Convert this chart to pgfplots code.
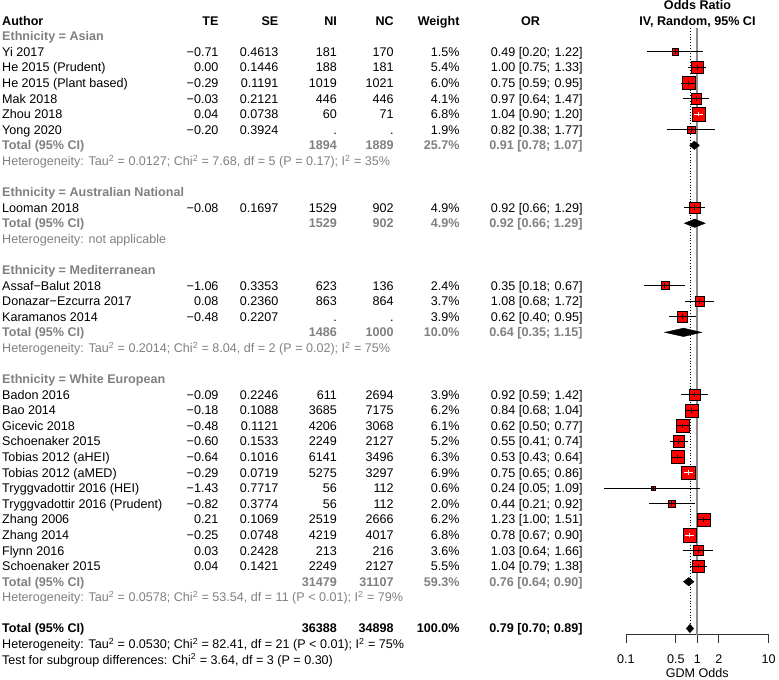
\documentclass[border=0pt]{standalone}
\usepackage{fontspec}
\setmainfont{Liberation Sans}
\usepackage{pgfplots}
\pgfplotsset{compat=1.18}
\usepackage{pgfplotstable}

\definecolor{grp}{RGB}{128,128,128}
\definecolor{vline}{RGB}{140,140,140}
\definecolor{sq}{RGB}{255,0,0}

% studies whose CI sticks out of the square (black line); ms = half side of square
\pgfplotstableread{
r  or   lo   hi   w   ms
2  0.49 0.20 1.22 1.5 3.18
3  1.00 0.75 1.33 5.4 6.04
4  0.75 0.59 0.95 6.0 6.37
5  0.97 0.64 1.47 4.1 5.26
7  0.82 0.38 1.77 1.9 3.58
12 0.92 0.66 1.29 4.9 5.76
17 0.35 0.18 0.67 2.4 4.03
18 1.08 0.68 1.72 3.7 5.00
19 0.62 0.40 0.95 3.9 5.13
24 0.92 0.59 1.42 3.9 5.13
25 0.84 0.68 1.04 6.2 6.47
26 0.62 0.50 0.77 6.1 6.42
27 0.55 0.41 0.74 5.2 5.93
28 0.53 0.43 0.64 6.3 6.53
30 0.24 0.05 1.09 0.6 2.01
31 0.44 0.21 0.92 2.0 3.68
32 1.23 1.00 1.51 6.2 6.47
34 1.03 0.64 1.66 3.6 4.93
35 1.04 0.79 1.38 5.5 6.10
}\wide
% studies whose CI lies inside the square (white line)
\pgfplotstableread{
r  or   lo   hi   w   ms
6  1.04 0.90 1.20 6.8 6.78
29 0.75 0.65 0.86 6.9 6.83
33 0.78 0.67 0.90 6.8 6.78
}\narrow

% baseline of row #1 in pixels
\newcommand\B[1]{25.2+15.63*(#1)}
\newcommand\st[9]{%
  \node[anchor=base west] at (2,{\B{#1}}) {#2};
  \node[anchor=base east] at (219.3,{\B{#1}}) {#3};
  \node[anchor=base east] at (279.3,{\B{#1}}) {#4};
  \node[anchor=base east] at (338,{\B{#1}}) {#5};
  \node[anchor=base east] at (395,{\B{#1}}) {#6};
  \node[anchor=base east] at (461,{\B{#1}}) {#7\%};
  \node[anchor=base east] at (552,{\B{#1}}) {#8;};
  \node[anchor=base east] at (584.5,{\B{#1}}) {#9]};
}
\newcommand\tot[6]{%
  \node[anchor=base west] at (2,{\B{#1}}) {Total (95\% CI)};
  \node[anchor=base east] at (338,{\B{#1}}) {#2};
  \node[anchor=base east] at (395,{\B{#1}}) {#3};
  \node[anchor=base east] at (461,{\B{#1}}) {#4\%};
  \node[anchor=base east] at (552,{\B{#1}}) {#5;};
  \node[anchor=base east] at (584.5,{\B{#1}}) {#6]};
}
\newcommand\lft[2]{\node[anchor=base west] at (2,{\B{#1}}) {#2};}
\newcommand\sq{\textsuperscript{2}}
\newcommand\fs{\fontsize{12.6}{15}\selectfont}

\pgfplotsset{
  boxes/.style={scatter, only marks, mark=square*,
    scatter/use mapped color={draw=none, fill=sq},
    visualization depends on={\thisrow{ms} \as \msz},
    scatter/@pre marker code/.append style={/tikz/mark size=\msz}},
  cis/.style={draw=none, mark=none,
    error bars/.cd, x dir=both, x explicit, y dir=both, y fixed=0.15,
    error mark=none, error bar style={draw=#1, line width=0.8pt}},
}

\begin{document}
\begin{tikzpicture}[font=\fs]
\begin{scope}[x=1pt,y=-1pt]
\useasboundingbox (0,0) rectangle (779,681);
\end{scope}

\begin{axis}[
  at={(627.7pt,-636.7pt)}, anchor=south west,
  scale only axis, width=143.2pt, height=636.7pt,
  xmode=log, xmin=0.1, xmax=10,
  ymin=-39.411, ymax=1.3244,
  axis y line=none, axis x line*=bottom,
  x axis line style={black!80, line width=0.8pt},
  xtick={0.1,0.5,1,2,10}, xticklabels={0.1,0.5,1,2,10},
  xminorticks=false,
  tick align=outside, major tick length=8pt,
  tick style={black!80, line width=0.8pt},
  xticklabel style={font=\fs, yshift=-8.5pt},
  clip=false, clip marker paths=true,
]
\addplot[vline, line width=1.8pt] coordinates {(1,-0.49) (1,-39.411)};
\addplot[black, line width=0.6pt, dash pattern=on 0.8pt off 2pt] coordinates {(0.79,-0.49) (0.79,-39.411)};

\addplot[boxes] table[x=or, y expr=-\thisrow{r}] {\wide};
\addplot[boxes] table[x=or, y expr=-\thisrow{r}] {\narrow};

\addplot[cis=black] table[x=or, y expr=-\thisrow{r},
    x error plus expr=\thisrow{hi}-\thisrow{or},
    x error minus expr=\thisrow{or}-\thisrow{lo}] {\wide};
\addplot[cis=white] table[x=or, y expr=-\thisrow{r},
    x error plus expr=\thisrow{hi}-\thisrow{or},
    x error minus expr=\thisrow{or}-\thisrow{lo}] {\narrow};

% pooled estimates
\addplot[fill=black, draw=black] coordinates {(0.78,-8) (0.91,-7.73) (1.07,-8) (0.91,-8.27)} -- cycle;
\addplot[fill=black, draw=black] coordinates {(0.66,-13) (0.92,-12.73) (1.29,-13) (0.92,-13.27)} -- cycle;
\addplot[fill=black, draw=black] coordinates {(0.35,-20) (0.64,-19.73) (1.15,-20) (0.64,-20.27)} -- cycle;
\addplot[fill=black, draw=black] coordinates {(0.64,-36) (0.76,-35.73) (0.90,-36) (0.76,-36.27)} -- cycle;
\addplot[fill=black, draw=black] coordinates {(0.70,-39) (0.79,-38.73) (0.89,-39) (0.79,-39.27)} -- cycle;
\end{axis}

\begin{scope}[x=1pt,y=-1pt, every node/.style={inner sep=0pt}]
% header
\begin{scope}[font=\fs\bfseries]
\node[anchor=base] at (699.5,{\B{-1}}) {Odds Ratio};
\node[anchor=base] at (699.5,{\B{0}}) {IV, Random, 95\% CI};
\node[anchor=base west] at (2,{\B{0}}) {Author};
\node[anchor=base east] at (219.3,{\B{0}}) {TE};
\node[anchor=base east] at (279.3,{\B{0}}) {SE};
\node[anchor=base east] at (338,{\B{0}}) {NI};
\node[anchor=base east] at (395,{\B{0}}) {NC};
\node[anchor=base east] at (461,{\B{0}}) {Weight};
\node[anchor=base] at (532,{\B{0}}) {OR};
\end{scope}

% subgroup headers and totals
\begin{scope}[font=\fs\bfseries, text=grp]
\lft{1}{Ethnicity = Asian}
\tot{8}{1894}{1889}{25.7}{0.91 [0.78}{1.07}
\lft{11}{Ethnicity = Australian National}
\tot{13}{1529}{902}{4.9}{0.92 [0.66}{1.29}
\lft{16}{Ethnicity = Mediterranean}
\tot{20}{1486}{1000}{10.0}{0.64 [0.35}{1.15}
\lft{23}{Ethnicity = White European}
\tot{36}{31479}{31107}{59.3}{0.76 [0.64}{0.90}
\end{scope}
\begin{scope}[text=grp]
\lft{9}{Heterogeneity: Tau\sq{} = 0.0127; Chi\sq{} = 7.68, df = 5 (P = 0.17); I\sq{} = 35\%}
\lft{14}{Heterogeneity: not applicable}
\lft{21}{Heterogeneity: Tau\sq{} = 0.2014; Chi\sq{} = 8.04, df = 2 (P = 0.02); I\sq{} = 75\%}
\lft{37}{Heterogeneity: Tau\sq{} = 0.0578; Chi\sq{} = 53.54, df = 11 (P < 0.01); I\sq{} = 79\%}
\end{scope}

\st{2}{Yi 2017}{−0.71}{0.4613}{181}{170}{1.5}{0.49 [0.20}{1.22}
\st{3}{He 2015 (Prudent)}{0.00}{0.1446}{188}{181}{5.4}{1.00 [0.75}{1.33}
\st{4}{He 2015 (Plant based)}{−0.29}{0.1191}{1019}{1021}{6.0}{0.75 [0.59}{0.95}
\st{5}{Mak 2018}{−0.03}{0.2121}{446}{446}{4.1}{0.97 [0.64}{1.47}
\st{6}{Zhou 2018}{0.04}{0.0738}{60}{71}{6.8}{1.04 [0.90}{1.20}
\st{7}{Yong 2020}{−0.20}{0.3924}{.}{.}{1.9}{0.82 [0.38}{1.77}

\st{12}{Looman 2018}{−0.08}{0.1697}{1529}{902}{4.9}{0.92 [0.66}{1.29}

\st{17}{Assaf−Balut 2018}{−1.06}{0.3353}{623}{136}{2.4}{0.35 [0.18}{0.67}
\st{18}{Donazar−Ezcurra 2017}{0.08}{0.2360}{863}{864}{3.7}{1.08 [0.68}{1.72}
\st{19}{Karamanos 2014}{−0.48}{0.2207}{.}{.}{3.9}{0.62 [0.40}{0.95}

\st{24}{Badon 2016}{−0.09}{0.2246}{611}{2694}{3.9}{0.92 [0.59}{1.42}
\st{25}{Bao 2014}{−0.18}{0.1088}{3685}{7175}{6.2}{0.84 [0.68}{1.04}
\st{26}{Gicevic 2018}{−0.48}{0.1121}{4206}{3068}{6.1}{0.62 [0.50}{0.77}
\st{27}{Schoenaker 2015}{−0.60}{0.1533}{2249}{2127}{5.2}{0.55 [0.41}{0.74}
\st{28}{Tobias 2012 (aHEI)}{−0.64}{0.1016}{6141}{3496}{6.3}{0.53 [0.43}{0.64}
\st{29}{Tobias 2012 (aMED)}{−0.29}{0.0719}{5275}{3297}{6.9}{0.75 [0.65}{0.86}
\st{30}{Tryggvadottir 2016 (HEI)}{−1.43}{0.7717}{56}{112}{0.6}{0.24 [0.05}{1.09}
\st{31}{Tryggvadottir 2016 (Prudent)}{−0.82}{0.3774}{56}{112}{2.0}{0.44 [0.21}{0.92}
\st{32}{Zhang 2006}{0.21}{0.1069}{2519}{2666}{6.2}{1.23 [1.00}{1.51}
\st{33}{Zhang 2014}{−0.25}{0.0748}{4219}{4017}{6.8}{0.78 [0.67}{0.90}
\st{34}{Flynn 2016}{0.03}{0.2428}{213}{216}{3.6}{1.03 [0.64}{1.66}
\st{35}{Schoenaker 2015}{0.04}{0.1421}{2249}{2127}{5.5}{1.04 [0.79}{1.38}

\begin{scope}[font=\fs\bfseries]
\tot{39}{36388}{34898}{100.0}{0.79 [0.70}{0.89}
\end{scope}
\lft{40}{Heterogeneity: Tau\sq{} = 0.0530; Chi\sq{} = 82.41, df = 21 (P < 0.01); I\sq{} = 75\%}
\lft{41}{Test for subgroup differences: Chi\sq{} = 3.64, df = 3 (P = 0.30)}

\node[anchor=base] at (699.3,679) {GDM Odds};
\end{scope}
\end{tikzpicture}
\end{document}
